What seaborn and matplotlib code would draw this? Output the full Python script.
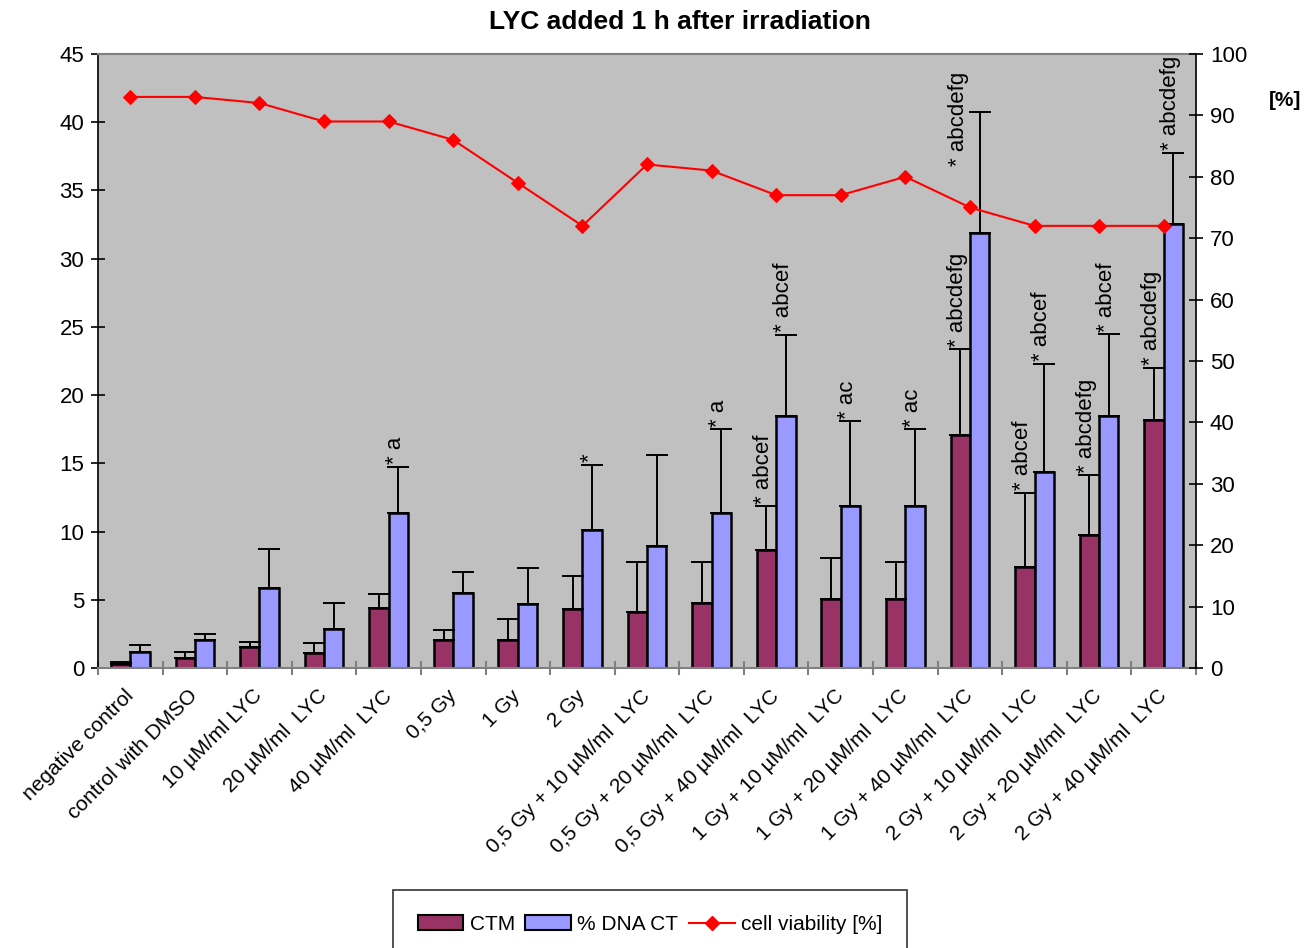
import numpy as np
import pandas as pd
import seaborn as sns
import matplotlib.pyplot as plt
from matplotlib.lines import Line2D
from matplotlib.patches import Patch

plt.rcParams['font.family'] = ['Liberation Sans', 'DejaVu Sans']

# data
groups = ['negative control', 'control with DMSO', '10 µM/ml LYC', '20 µM/ml  LYC',
          '40 µM/ml  LYC', '0,5 Gy', '1 Gy', '2 Gy',
          '0,5 Gy + 10 µM/ml  LYC', '0,5 Gy + 20 µM/ml  LYC', '0,5 Gy + 40 µM/ml  LYC',
          '1 Gy + 10 µM/ml  LYC', '1 Gy + 20 µM/ml  LYC', '1 Gy + 40 µM/ml  LYC',
          '2 Gy + 10 µM/ml  LYC', '2 Gy + 20 µM/ml  LYC', '2 Gy + 40 µM/ml  LYC']
ctm = [0.27, 0.73, 1.56, 1.07, 4.42, 2.03, 2.05, 4.32, 4.08, 4.79, 8.65, 5.03, 5.03,
       17.1, 7.37, 9.77, 18.16]
ctm_err = [0.19, 0.47, 0.37, 0.74, 0.98, 0.76, 1.54, 2.40, 3.69, 2.98, 3.20, 3.01, 2.74,
           6.25, 5.45, 4.34, 3.86]
dna = [1.2, 2.03, 5.86, 2.88, 11.38, 5.52, 4.69, 10.09, 8.97, 11.38, 18.45, 11.85, 11.85,
       31.85, 14.35, 18.43, 32.57]
dna_err = [0.49, 0.47, 2.86, 1.91, 3.35, 1.54, 2.64, 4.79, 6.62, 6.11, 5.98, 6.23, 5.64,
           8.89, 7.94, 6.02, 5.18]
viability = [93, 93, 92, 89, 89, 86, 79, 72, 82, 81, 77, 77, 80, 75, 72, 72, 72]

# significance labels: (group index, series, text)
sig_labels = [(4, 'dna', '* a'), (7, 'dna', '*'), (9, 'dna', '* a'),
              (10, 'ctm', '* abcef'), (10, 'dna', '* abcef'),
              (11, 'dna', '* ac'), (12, 'dna', '* ac'),
              (13, 'ctm', '* abcdefg'), (13, 'dna', '* abcdefg'),
              (14, 'ctm', '* abcef'), (14, 'dna', '* abcef'),
              (15, 'ctm', '* abcdefg'), (15, 'dna', '* abcef'),
              (16, 'ctm', '* abcdefg'), (16, 'dna', '* abcdefg')]

c_ctm = '#993366'
c_dna = '#9999FF'

n = len(groups)
df = pd.DataFrame({
    'group': groups * 2,
    'series': ['CTM'] * n + ['% DNA CT'] * n,
    'value': ctm + dna,
})

fig = plt.figure(figsize=(13.14, 9.48), dpi=100)
ax = fig.add_axes([0.0746, 0.2954, 0.8356, 0.6477])
ax.set_facecolor('#C0C0C0')

sns.barplot(data=df, x='group', y='value', hue='series', order=groups,
            hue_order=['CTM', '% DNA CT'], palette=[c_ctm, c_dna], width=0.6,
            saturation=1, edgecolor='black', linewidth=1.8, errorbar=None,
            legend=False, ax=ax)

xs = {}
for key, cont, vals, errs in [('ctm', ax.containers[0], ctm, ctm_err),
                              ('dna', ax.containers[1], dna, dna_err)]:
    x = [b.get_x() + b.get_width() / 2 for b in cont]
    xs[key] = x
    ax.errorbar(x, vals, yerr=[np.zeros(n), errs], fmt='none', ecolor='black',
                elinewidth=1.4, capsize=8, capthick=1.4, zorder=3)

tops = {'ctm': np.add(ctm, ctm_err), 'dna': np.add(dna, dna_err)}
for gi, key, txt in sig_labels:
    x = xs[key][gi] - 0.04
    y = tops[key][gi] + 0.2
    if (gi, key) == (13, 'dna'):
        # this one sits beside the error bar in the original
        x = xs[key][gi] - 0.33
        y = 36.8
    ax.text(x, y, txt, rotation=90, ha='center', va='bottom', fontsize=16)

ax.set_xlim(-0.5, n - 0.5)
ax.set_ylim(0, 45)
ax.set_yticks(range(0, 46, 5))
ax.set_xlabel('')
ax.set_ylabel('')
ax.set_xticks(range(n))
ax.set_xticklabels(groups, rotation=45, ha='right', va='center',
                   rotation_mode='anchor', fontsize=15)
ax.set_xticks(np.arange(-0.5, n, 1), minor=True)
ax.tick_params(axis='x', which='major', length=0, pad=18)
ax.tick_params(axis='x', which='minor', length=10, direction='inout', color='#808080', width=1.5)
ax.tick_params(axis='y', length=10, direction='inout', width=1.2, labelsize=16, pad=5)
ax.spines['left'].set_linewidth(1.2)
for s in ['top', 'bottom']:
    ax.spines[s].set_color('#808080')
    ax.spines[s].set_linewidth(1.5)
ax.spines['right'].set_visible(False)

ax2 = ax.twinx()
sns.lineplot(x=np.arange(n), y=viability, ax=ax2, color='red', marker='D',
             markersize=7, markeredgecolor='red', linewidth=1.5)
ax2.set_ylim(0, 100)
ax2.set_yticks(range(0, 101, 10))
ax2.set_xlim(-0.5, n - 0.5)
ax2.tick_params(axis='y', length=10, direction='inout', width=1.2, labelsize=16, pad=5)
for s in ['top', 'bottom', 'left']:
    ax2.spines[s].set_visible(False)
ax2.spines['right'].set_linewidth(1.2)

fig.text(680 / 1314, 1 - 22 / 948, 'LYC added 1 h after irradiation',
         ha='center', va='center', fontsize=19, fontweight='bold')
fig.text(1285 / 1314, 1 - 101 / 948, '[%]', ha='center', va='center',
         fontsize=15, fontweight='bold')

handles = [Patch(facecolor=c_ctm, edgecolor='black', linewidth=1.5),
           Patch(facecolor=c_dna, edgecolor='black', linewidth=1.5),
           Line2D([], [], color='red', marker='D', markersize=7, linewidth=1.5)]
leg = fig.legend(handles, ['CTM', '% DNA CT', 'cell viability [%]'],
                 loc='upper center', bbox_to_anchor=(650 / 1314, 1 - 890 / 948),
                 borderaxespad=0, ncol=3, fontsize=15, frameon=True, fancybox=False,
                 edgecolor='black', borderpad=1.2, handlelength=2.2,
                 handletextpad=0.3, columnspacing=0.5)
leg.get_frame().set_linewidth(1.2)

fig.savefig('out.png', dpi=100)
